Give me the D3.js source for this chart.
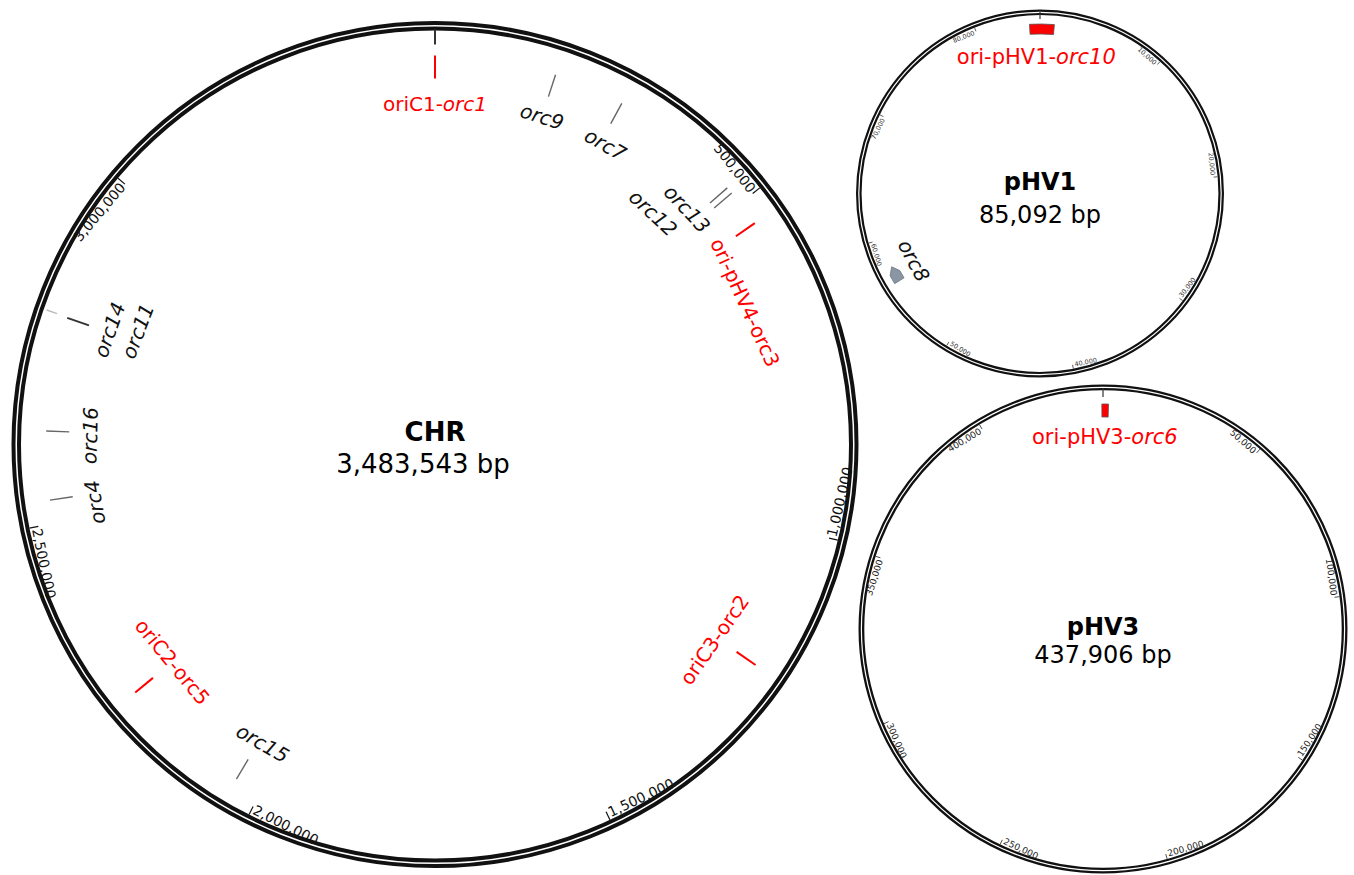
<!DOCTYPE html>
<html>
<head>
<meta charset="utf-8">
<script src="https://cdn.jsdelivr.net/npm/d3@7"></script>
<style>
  body { margin: 0; background: #fff; }
  svg { display: block; font-family: 'DejaVu Sans', Verdana, sans-serif; }
</style>
</head>
<body>
<svg id="maps" width="1354" height="875"></svg>
<script>
// replicon sizes (bp)
const chrLength = 3483543;
const phv1Length = 85092;
const phv3Length = 437906;

// coordinate ticks
const chrTicks = [500000, 1000000, 1500000, 2000000, 2500000, 3000000];
const phv1Ticks = [10000, 20000, 30000, 40000, 50000, 60000, 70000, 80000];
const phv3Ticks = [50000, 100000, 150000, 200000, 250000, 300000, 350000, 400000];

// replication origins on the chromosome (red)
const chrOri = [
    {prefix: 'oriC1-', gene: 'orc1', pos: 0},
    {prefix: 'ori-pHV4-', gene: 'orc3', pos: 535100},
    {prefix: 'oriC3-', gene: 'orc2', pos: 1204800},
    {prefix: 'oriC2-', gene: 'orc5', pos: 2229500}
];

// other orc genes on the chromosome
const chrOrc = [
    {gene: 'orc9', pos: 174700},
    {gene: 'orc7', pos: 277700},
    {gene: 'orc12', pos: 471300},
    {gene: 'orc13', pos: 481000},
    {gene: 'orc15', pos: 2038800},
    {gene: 'orc4', pos: 2533300},
    {gene: 'orc16', pos: 2632000},
    {gene: 'orc14', pos: 2796600},
    {gene: 'orc11', pos: 2797600}
];

// plasmid genes
const phv1Genes = [
    {prefix: 'ori-pHV1-', gene: 'orc10', start: 84250, end: 1150, ori: true},
    {prefix: '', gene: 'orc8', start: 56300, end: 57600, ori: false}
];
const phv3Genes = [
    {prefix: 'ori-pHV3-', gene: 'orc6', start: 437550, end: 1700, ori: true}
];

// label placement tweaks (degrees along the circle, inner row)
const labelLayout = {
    orc7: {shift: 0.9}, orc13: {shift: -2.8}, orc12: {shift: -5.4, row: 1},
    orc3: {shift: 10.1}, orc2: {shift: 0.4}, orc15: {shift: -0.7},
    orc4: {shift: -1.4}, orc16: {shift: -0.5}, orc14: {shift: 0.4},
    orc11: {shift: 1.8, row: 1}, orc8: {shift: 1}, orc10: {shift: -2.2}
};
const uprightGenes = new Set(['orc2', 'orc3', 'orc5']);
const faintGenes = new Set(['orc11']);

const svg = d3.select('#maps');
const fmt = d3.format(',');
const deg = a => a * 180 / Math.PI;

function makeMap(cfg) {
    cfg.angle = d3.scaleLinear().domain([0, cfg.len]).range([0, 2 * Math.PI]);
    cfg.pt = (r, a) => [cfg.cx + r * Math.sin(a), cfg.cy - r * Math.cos(a)];
    cfg.rIn = cfg.R - 2 * cfg.w - cfg.gap;
    cfg.g = svg.append('g').attr('class', 'map-' + cfg.name);
    return cfg;
}

function drawRing(m) {
    [m.R - m.w / 2, m.R - 1.5 * m.w - m.gap].forEach(r => {
        m.g.append('circle')
            .attr('cx', m.cx).attr('cy', m.cy).attr('r', r)
            .attr('fill', 'none').attr('stroke', '#111').attr('stroke-width', m.w);
    });
    // origin tick at position 0
    const [x1, y1] = m.pt(m.zeroTick[0], 0), [x2, y2] = m.pt(m.zeroTick[1], 0);
    m.g.append('line').attr('x1', x1).attr('y1', y1).attr('x2', x2).attr('y2', y2)
        .attr('stroke', '#333').attr('stroke-width', m.zeroW);

    m.g.append('text').attr('x', m.cx).attr('y', m.cy + m.titleDy)
        .attr('text-anchor', 'middle').attr('font-weight', 'bold')
        .attr('font-size', m.titleSize).text(m.name);
    m.g.append('text').attr('x', m.cx + m.sizeDx).attr('y', m.cy + m.sizeDy)
        .attr('text-anchor', 'middle')
        .attr('font-size', m.titleSize).text(fmt(m.len) + ' bp');
}

function drawTicks(m, ticks) {
    ticks.forEach(t => {
        const a = m.angle(t), d = deg(a);
        const [x1, y1] = m.pt(m.rIn, a), [x2, y2] = m.pt(m.rIn - m.tickLen, a);
        m.g.append('line').attr('x1', x1).attr('y1', y1).attr('x2', x2).attr('y2', y2)
            .attr('stroke', m.tickColor).attr('stroke-width', m.tickW);
        const flip = d > 90 && d < 270;
        const [tx, ty] = m.pt(m.rIn - 1, a);
        m.g.append('text')
            .attr('transform', `translate(${tx},${ty}) rotate(${flip ? d - 180 : d})`)
            .attr('x', flip ? 2 : -2).attr('y', flip ? -1 : 1)
            .attr('dominant-baseline', flip ? 'auto' : 'hanging')
            .attr('text-anchor', flip ? 'start' : 'end')
            .attr('font-size', m.tickSize).attr('fill', m.tickColor)
            .text(fmt(t));
    });
}

function drawLabel(m, f, pos, r, color, size) {
    const lay = labelLayout[f.gene] || {};
    const a = m.angle(pos) + (lay.shift || 0) * Math.PI / 180;
    const rr = r - (lay.row ? m.rowGap : 0);
    const d = deg(a);
    const flip = d > 90 && d < 250;
    const [x, y] = m.pt(rr, a);
    const t = m.g.append('text')
        .attr('transform', `translate(${x},${y}) rotate(${Math.abs(d) < 5 || Math.abs(d - 360) < 5 ? 0 : (flip ? d - 180 : d)})`)
        .attr('text-anchor', 'middle').attr('dominant-baseline', 'central')
        .attr('font-size', size).attr('fill', color);
    if (f.prefix) t.append('tspan').text(f.prefix);
    t.append('tspan')
        .attr('font-style', uprightGenes.has(f.gene) ? 'normal' : 'italic')
        .text(f.gene);
}

function radial(m, pos, r0, r1, color, w) {
    const a = m.angle(pos);
    const [x1, y1] = m.pt(r0, a), [x2, y2] = m.pt(r1, a);
    m.g.append('line').attr('x1', x1).attr('y1', y1).attr('x2', x2).attr('y2', y2)
        .attr('stroke', color).attr('stroke-width', w);
}

// ---------- chromosome ----------
const chr = makeMap({name: 'CHR', len: chrLength, cx: 435, cy: 444.6, R: 423.5, w: 4, gap: 1.5,
    zeroTick: [415, 400], zeroW: 2, tickLen: 9, tickW: 1.2, tickSize: 14, tickColor: '#111',
    titleSize: 26, titleDy: -4, sizeDx: -12, sizeDy: 28, rowGap: 27});
drawRing(chr);
drawTicks(chr, chrTicks);

chrOri.forEach(f => {
    radial(chr, f.pos, 366, 389, '#ff0000', 2);
    drawLabel(chr, f, f.pos, 341, '#ff0000', 20);
});
chrOrc.forEach(f => {
    if (faintGenes.has(f.gene)) radial(chr, f.pos, 400, 411, '#bbbbbb', 1.5);
    else radial(chr, f.pos, 366, 389, f.gene === 'orc14' ? '#333' : '#666', f.gene === 'orc14' ? 2 : 1.4);
    drawLabel(chr, f, f.pos, 345, '#111', 20);
});

// ---------- plasmids ----------
function drawPlasmidGenes(m, genes) {
    genes.forEach(f => {
        const a0 = m.angle(f.start);
        const a1 = m.angle(f.end < f.start ? f.end + m.len : f.end);
        const mid = m.angle(f.end < f.start ? (f.start + f.end + m.len) / 2 : (f.start + f.end) / 2);
        if (f.ori) {
            const arc = d3.arc().innerRadius(m.geneR[0]).outerRadius(m.geneR[1])
                .startAngle(a0).endAngle(a1);
            m.g.append('path').attr('d', arc())
                .attr('transform', `translate(${m.cx},${m.cy})`)
                .attr('fill', '#ff0000').attr('stroke', '#555').attr('stroke-width', 0.8);
            const p = mid * m.len / (2 * Math.PI);
            drawLabel(m, f, p, m.oriLabelR, '#ff0000', 21);
        } else {
            const rIn = m.arrowR[0], rOut = m.arrowR[1], rMid = (rIn + rOut) / 2;
            const aH = a0 + (a1 - a0) * 0.55;
            const pts = [m.pt(rIn, a0), m.pt(rOut, a0), m.pt(rOut, aH), m.pt(rMid, a1), m.pt(rIn, aH)];
            m.g.append('path').attr('d', d3.line()(pts) + 'Z')
                .attr('fill', '#8a96a3').attr('stroke', '#6b747d').attr('stroke-width', 0.8);
            drawLabel(m, f, mid * m.len / (2 * Math.PI), m.orcLabelR, '#111', 20);
        }
    });
}

const phv1 = makeMap({name: 'pHV1', len: phv1Length, cx: 1040, cy: 193.5, R: 184, w: 2.2, gap: 1.2,
    zeroTick: [181.5, 174.5], zeroW: 1.2, tickLen: 4, tickW: 0.8, tickSize: 6.5, tickColor: '#333',
    titleSize: 24, titleDy: -3.5, sizeDx: 0, sizeDy: 29.5, rowGap: 0,
    geneR: [159.5, 169.5], arrowR: [160, 171], oriLabelR: 136.5, orcLabelR: 143});
drawRing(phv1);
drawTicks(phv1, phv1Ticks);
drawPlasmidGenes(phv1, phv1Genes);

const phv3 = makeMap({name: 'pHV3', len: phv3Length, cx: 1103, cy: 629, R: 244.5, w: 2.3, gap: 1.2,
    zeroTick: [241, 232], zeroW: 1.2, tickLen: 5, tickW: 0.8, tickSize: 9, tickColor: '#222',
    titleSize: 24, titleDy: 6, sizeDx: 0, sizeDy: 34, rowGap: 0,
    geneR: [212, 225], arrowR: [212, 225], oriLabelR: 192, orcLabelR: 180});
drawRing(phv3);
drawTicks(phv3, phv3Ticks);
drawPlasmidGenes(phv3, phv3Genes);
</script>
</body>
</html>
